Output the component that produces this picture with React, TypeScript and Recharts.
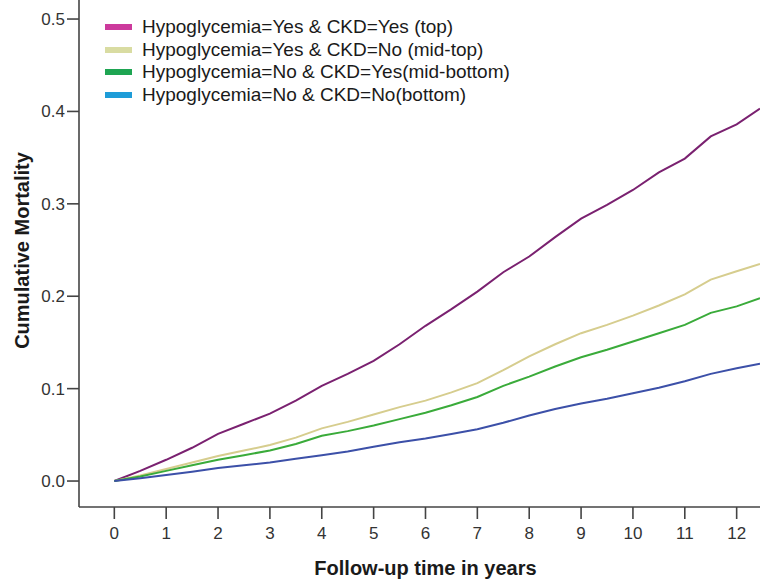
import React from 'react'
import { LineChart, Line, XAxis, YAxis, Legend, Label } from 'recharts'

const years = [0, 0.5, 1, 1.5, 2, 2.5, 3, 3.5, 4, 4.5, 5, 5.5, 6, 6.5, 7, 7.5, 8, 8.5, 9, 9.5, 10, 10.5, 11, 11.5, 12, 12.45]

const yesYes = [0, 0.011, 0.023, 0.036, 0.051, 0.062, 0.073, 0.087, 0.103, 0.116, 0.13, 0.148, 0.168, 0.186, 0.205, 0.226, 0.243, 0.264, 0.284, 0.299, 0.315, 0.334, 0.349, 0.373, 0.386, 0.403]
const yesNo = [0, 0.006, 0.013, 0.02, 0.027, 0.033, 0.039, 0.047, 0.057, 0.064, 0.072, 0.08, 0.087, 0.096, 0.106, 0.12, 0.135, 0.148, 0.16, 0.169, 0.179, 0.19, 0.202, 0.218, 0.227, 0.235]
const noYes = [0, 0.005, 0.011, 0.017, 0.023, 0.028, 0.033, 0.04, 0.049, 0.054, 0.06, 0.067, 0.074, 0.082, 0.091, 0.103, 0.113, 0.124, 0.134, 0.142, 0.151, 0.16, 0.169, 0.182, 0.189, 0.198]
const noNo = [0, 0.003, 0.0065, 0.01, 0.014, 0.017, 0.02, 0.024, 0.028, 0.032, 0.037, 0.042, 0.046, 0.051, 0.056, 0.063, 0.071, 0.078, 0.084, 0.089, 0.095, 0.101, 0.108, 0.116, 0.122, 0.127]

const xTicks = [0, 1, 2, 3, 4, 5, 6, 7, 8, 9, 10, 11, 12]
const yTicks = [0, 0.1, 0.2, 0.3, 0.4, 0.5]

const legendItems = [
  { label: 'Hypoglycemia=Yes & CKD=Yes (top)', color: '#cc3a9c' },
  { label: 'Hypoglycemia=Yes & CKD=No (mid-top)', color: '#d9dca2' },
  { label: 'Hypoglycemia=No & CKD=Yes(mid-bottom)', color: '#1ea552' },
  { label: 'Hypoglycemia=No & CKD=No(bottom)', color: '#1e9cd8' },
]

const data = years.map((t, i) => ({
  t,
  yesYes: yesYes[i],
  yesNo: yesNo[i],
  noYes: noYes[i],
  noNo: noNo[i],
}))

const FONT = '"Liberation Sans", Arial, sans-serif'
const AXIS = '#444'

function ChartLegend() {
  return (
    <div style={{ fontFamily: FONT, fontSize: 19, color: '#1a1a1a' }}>
      {legendItems.map((item) => (
        <div key={item.label} style={{ display: 'flex', alignItems: 'center', height: 22.5 }}>
          <span style={{ display: 'inline-block', width: 27, height: 6, background: item.color, marginRight: 10 }} />
          <span style={{ whiteSpace: 'nowrap' }}>{item.label}</span>
        </div>
      ))}
    </div>
  )
}

function XTitle({ viewBox }: any) {
  const { x, y, width, height } = viewBox
  return (
    <text x={x + width / 2 + 6} y={y + height - 6} textAnchor="middle" fontFamily={FONT} fontSize={20} fontWeight="bold" fill="#1a1a1a">
      Follow-up time in years
    </text>
  )
}

function YTitle({ viewBox }: any) {
  const { x, y, height } = viewBox
  const cx = x + 29
  const cy = y + height / 2 - 3
  return (
    <text x={cx} y={cy} textAnchor="middle" transform={`rotate(-90, ${cx}, ${cy})`} fontFamily={FONT} fontSize={20} fontWeight="bold" fill="#1a1a1a">
      Cumulative Mortality
    </text>
  )
}

export default function App() {
  return (
    <div style={{ position: 'absolute', left: 0, top: 0, width: 760, height: 581, background: '#fff' }}>
      <LineChart width={760} height={581} data={data} margin={{ top: 0, right: 0, bottom: 0, left: 0 }}>
        <XAxis
          dataKey="t"
          type="number"
          domain={[-0.681, 12.45]}
          allowDataOverflow
          ticks={xTicks}
          interval={0}
          height={74}
          tickSize={12}
          tickMargin={8}
          stroke={AXIS}
          strokeWidth={1.6}
          tick={{ fill: '#333', fontSize: 17, fontFamily: FONT }}
        >
          <Label content={XTitle} />
        </XAxis>
        <YAxis
          type="number"
          domain={[-0.0281, 0.5206]}
          allowDataOverflow
          ticks={yTicks}
          interval={0}
          width={79}
          tickSize={12}
          tickMargin={2}
          stroke={AXIS}
          strokeWidth={1.6}
          tickFormatter={(v: number) => v.toFixed(1)}
          tick={{ fill: '#333', fontSize: 17, fontFamily: FONT }}
        >
          <Label content={YTitle} />
        </YAxis>
        <Legend
          content={ChartLegend}
          layout="vertical"
          verticalAlign="middle"
          align="center"
          wrapperStyle={{ top: 16, left: 105, width: 420, height: 92 }}
        />
        <Line dataKey="yesYes" stroke="#7a2170" strokeWidth={2} dot={false} isAnimationActive={false} />
        <Line dataKey="yesNo" stroke="#d6cd8e" strokeWidth={2} dot={false} isAnimationActive={false} />
        <Line dataKey="noYes" stroke="#3aab3a" strokeWidth={2} dot={false} isAnimationActive={false} />
        <Line dataKey="noNo" stroke="#3c50a8" strokeWidth={2} dot={false} isAnimationActive={false} />
      </LineChart>
    </div>
  )
}
